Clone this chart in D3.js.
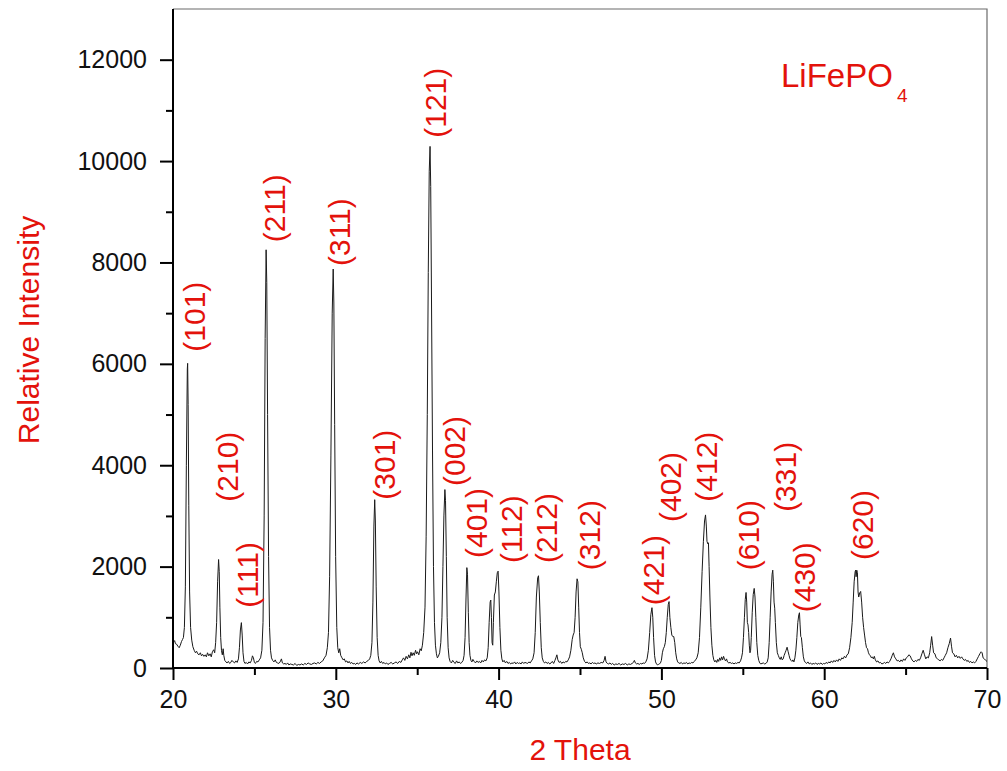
<!DOCTYPE html>
<html>
<head>
<meta charset="utf-8">
<script src="https://cdn.jsdelivr.net/npm/d3@7"></script>
<style>
  body { margin: 0; background: #fff; }
  text { font-family: "Liberation Sans", Arial, sans-serif; }
</style>
</head>
<body>
<div id="xrdChart"></div>
<script>
//********************************************************************//
//
//                    DATA
//
//*******************************************************************//

  // measured pattern: [2 theta, intensity]
  var pattern = [
    [20.00,560],[20.05,520],[20.10,540],[20.15,480],[20.22,470],[20.30,430],[20.38,400],[20.45,450],
    [20.52,520],[20.58,560],[20.64,600],[20.70,800],[20.76,1600],[20.82,4000],[20.88,5900],[20.90,6010],
    [20.93,5200],[20.97,3200],[21.02,1500],[21.08,800],[21.15,550],[21.22,420],[21.30,350],[21.38,300],
    [21.45,330],[21.52,280],[21.60,260],[21.68,300],[21.75,240],[21.82,270],[21.90,230],[21.98,260],
    [22.05,220],[22.12,300],[22.20,240],[22.28,280],[22.35,220],[22.42,320],[22.50,360],[22.56,300],
    [22.62,500],[22.68,900],[22.74,1700],[22.80,2140],[22.84,1900],[22.88,1200],[22.93,600],[22.98,340],
    [23.03,260],[23.08,380],[23.12,250],[23.18,150],[23.25,120],[23.32,100],[23.40,130],[23.48,90],
    [23.55,110],[23.62,150],[23.70,120],[23.78,100],[23.86,140],[23.94,110],[24.02,180],[24.08,400],
    [24.14,750],[24.20,895],[24.25,650],[24.30,300],[24.36,130],[24.42,90],[24.50,110],[24.58,80],
    [24.66,120],[24.74,100],[24.82,150],[24.88,240],[24.94,200],[25.00,110],[25.06,90],[25.14,130],
    [25.22,120],[25.30,160],[25.38,200],[25.46,350],[25.53,900],[25.60,3000],[25.66,6500],[25.72,8250],
    [25.76,7600],[25.81,5000],[25.87,2200],[25.93,800],[25.99,350],[26.05,200],[26.12,150],[26.20,120],
    [26.28,160],[26.35,110],[26.42,100],[26.50,90],[26.58,120],[26.66,180],[26.72,100],[26.80,80],
    [26.88,90],[26.96,70],[27.04,100],[27.12,60],[27.20,80],[27.30,70],[27.40,60],[27.50,90],
    [27.60,50],[27.70,70],[27.80,60],[27.90,80],[28.00,60],[28.10,90],[28.20,70],[28.30,100],
    [28.40,80],[28.50,70],[28.60,90],[28.70,100],[28.80,80],[28.90,110],[29.00,90],[29.10,120],
    [29.20,140],[29.30,200],[29.40,250],[29.48,400],[29.55,700],[29.62,1800],[29.70,4200],[29.78,7000],
    [29.84,7870],[29.88,7200],[29.93,4800],[29.99,2200],[30.06,800],[30.12,400],[30.18,300],[30.24,380],
    [30.30,250],[30.38,200],[30.45,160],[30.52,180],[30.60,120],[30.68,140],[30.75,100],[30.82,130],
    [30.90,90],[30.98,110],[31.06,80],[31.14,90],[31.22,70],[31.30,100],[31.40,80],[31.50,110],
    [31.60,90],[31.70,120],[31.80,100],[31.90,130],[32.00,150],[32.08,180],[32.15,250],[32.22,500],
    [32.28,1300],[32.34,2800],[32.39,3320],[32.43,2900],[32.48,1600],[32.54,600],[32.60,250],[32.66,140],
    [32.73,100],[32.80,130],[32.88,90],[32.96,110],[33.04,80],[33.12,100],[33.20,70],[33.30,90],
    [33.40,110],[33.50,80],[33.60,100],[33.70,120],[33.80,90],[33.90,130],[34.00,110],[34.08,160],
    [34.16,200],[34.24,150],[34.32,230],[34.40,180],[34.48,260],[34.55,200],[34.62,310],[34.68,240],
    [34.75,300],[34.82,250],[34.90,350],[34.96,280],[35.02,320],[35.10,260],[35.18,380],[35.25,340],
    [35.32,450],[35.40,700],[35.48,1200],[35.55,2600],[35.62,5000],[35.68,7800],[35.74,9800],[35.79,10290],
    [35.83,9500],[35.88,7200],[35.94,4300],[36.00,2000],[36.06,900],[36.12,450],[36.18,280],[36.24,200],
    [36.30,230],[36.38,300],[36.45,500],[36.52,1000],[36.58,2000],[36.64,3000],[36.70,3520],[36.74,3300],
    [36.79,2200],[36.84,1000],[36.90,400],[36.96,200],[37.02,130],[37.10,100],[37.18,150],[37.26,110],
    [37.34,90],[37.42,140],[37.50,100],[37.58,120],[37.66,90],[37.74,110],[37.82,150],[37.88,250],
    [37.94,600],[38.00,1400],[38.05,1980],[38.09,1850],[38.14,1100],[38.19,500],[38.24,250],[38.30,150],
    [38.36,120],[38.42,170],[38.50,130],[38.58,100],[38.66,140],[38.74,110],[38.82,130],[38.90,100],
    [38.98,150],[39.06,120],[39.14,160],[39.22,140],[39.30,200],[39.36,400],[39.42,900],[39.48,1300],
    [39.52,1340],[39.56,1000],[39.60,500],[39.64,450],[39.68,900],[39.74,1440],[39.80,1500],[39.86,1700],
    [39.92,1880],[39.97,1910],[40.02,1500],[40.08,800],[40.14,350],[40.20,180],[40.26,120],[40.34,150],
    [40.42,100],[40.50,130],[40.58,90],[40.66,110],[40.74,80],[40.82,100],[40.90,90],[40.98,120],
    [41.06,80],[41.14,110],[41.22,90],[41.30,100],[41.38,80],[41.46,120],[41.54,90],[41.62,110],
    [41.70,100],[41.78,90],[41.86,120],[41.94,100],[42.02,140],[42.10,180],[42.18,300],[42.25,700],
    [42.32,1400],[42.40,1780],[42.45,1820],[42.50,1500],[42.56,900],[42.62,400],[42.68,200],[42.75,130],
    [42.82,100],[42.90,120],[42.98,90],[43.06,110],[43.14,80],[43.22,100],[43.30,130],[43.38,90],
    [43.46,150],[43.52,200],[43.58,260],[43.64,160],[43.72,110],[43.80,130],[43.88,90],[43.96,120],
    [44.04,100],[44.12,130],[44.20,120],[44.28,160],[44.36,220],[44.44,350],[44.52,560],[44.58,650],
    [44.64,700],[44.70,1000],[44.76,1500],[44.82,1760],[44.87,1700],[44.92,1200],[44.97,700],[45.02,420],
    [45.08,370],[45.14,300],[45.20,200],[45.28,130],[45.36,100],[45.44,120],[45.52,90],[45.60,100],
    [45.68,80],[45.76,110],[45.84,90],[45.92,100],[46.00,80],[46.10,100],[46.20,90],[46.30,110],
    [46.40,100],[46.48,150],[46.54,230],[46.60,120],[46.68,90],[46.76,80],[46.84,100],[46.92,70],
    [47.00,90],[47.10,60],[47.20,80],[47.30,70],[47.40,90],[47.50,60],[47.60,80],[47.70,70],
    [47.80,90],[47.90,60],[48.00,80],[48.10,70],[48.20,90],[48.28,110],[48.34,150],[48.40,100],
    [48.48,80],[48.56,90],[48.64,70],[48.72,90],[48.80,80],[48.88,100],[48.96,90],[49.04,120],
    [49.12,180],[49.20,350],[49.28,700],[49.35,1050],[49.42,1190],[49.47,1000],[49.52,600],[49.58,250],
    [49.64,120],[49.70,80],[49.76,60],[49.82,70],[49.88,80],[49.94,100],[50.00,150],[50.06,300],
    [50.12,380],[50.18,420],[50.24,500],[50.30,700],[50.36,1000],[50.42,1250],[50.47,1310],[50.52,1000],
    [50.58,800],[50.64,650],[50.70,620],[50.76,620],[50.82,500],[50.88,300],[50.94,180],[51.00,120],
    [51.06,100],[51.14,90],[51.22,110],[51.30,80],[51.38,100],[51.46,90],[51.54,110],[51.62,80],
    [51.70,100],[51.78,90],[51.86,110],[51.94,100],[52.02,130],[52.10,160],[52.18,200],[52.26,300],
    [52.34,600],[52.42,1200],[52.50,1900],[52.58,2500],[52.65,2900],[52.71,3020],[52.76,2800],[52.80,2500],
    [52.85,2450],[52.89,2470],[52.93,2000],[52.98,1400],[53.04,800],[53.10,450],[53.16,250],[53.22,160],
    [53.28,120],[53.34,150],[53.40,110],[53.46,170],[53.52,130],[53.58,200],[53.64,150],[53.70,220],
    [53.76,160],[53.82,230],[53.88,170],[53.94,140],[54.00,180],[54.06,120],[54.14,100],[54.22,110],
    [54.30,90],[54.38,100],[54.46,80],[54.54,100],[54.62,90],[54.70,110],[54.78,100],[54.86,140],
    [54.92,200],[54.98,300],[55.04,600],[55.10,1000],[55.15,1350],[55.20,1490],[55.24,1300],[55.28,900],
    [55.32,850],[55.36,700],[55.40,450],[55.44,300],[55.48,350],[55.52,600],[55.58,1100],[55.64,1450],
    [55.70,1570],[55.75,1400],[55.80,1000],[55.86,500],[55.92,250],[55.98,150],[56.04,100],[56.10,80],
    [56.18,90],[56.26,100],[56.34,80],[56.42,90],[56.50,120],[56.56,200],[56.62,500],[56.68,1000],
    [56.74,1500],[56.80,1850],[56.84,1930],[56.88,1700],[56.92,1300],[56.96,1180],[57.00,900],[57.06,500],
    [57.12,300],[57.18,250],[57.24,200],[57.30,170],[57.36,220],[57.42,160],[57.48,180],[57.54,250],
    [57.60,300],[57.66,350],[57.72,410],[57.78,330],[57.84,250],[57.90,180],[57.96,150],[58.02,130],
    [58.08,160],[58.14,120],[58.20,200],[58.26,350],[58.32,600],[58.38,900],[58.44,1050],[58.48,1090],
    [58.52,850],[58.56,620],[58.60,600],[58.66,400],[58.72,220],[58.78,140],[58.84,110],[58.92,90],
    [59.00,120],[59.08,80],[59.16,100],[59.24,70],[59.32,90],[59.40,80],[59.48,100],[59.56,70],
    [59.64,90],[59.72,80],[59.80,100],[59.88,70],[59.96,90],[60.04,80],[60.12,110],[60.20,90],
    [60.28,120],[60.36,100],[60.44,140],[60.52,110],[60.60,150],[60.68,120],[60.76,160],[60.84,130],
    [60.92,180],[61.00,150],[61.08,200],[61.16,180],[61.24,230],[61.32,200],[61.40,260],[61.48,280],
    [61.56,400],[61.64,600],[61.72,900],[61.78,1300],[61.84,1700],[61.90,1900],[61.93,1930],[61.96,1800],
    [62.00,1930],[62.04,1880],[62.08,1500],[62.12,1400],[62.18,1480],[62.24,1510],[62.30,1300],[62.36,1000],
    [62.42,800],[62.48,650],[62.54,500],[62.60,400],[62.66,380],[62.72,300],[62.78,260],[62.84,240],
    [62.90,200],[62.96,220],[63.02,180],[63.08,230],[63.14,160],[63.22,120],[63.30,140],[63.38,100],
    [63.46,110],[63.54,80],[63.62,90],[63.70,110],[63.78,90],[63.86,120],[63.94,100],[64.02,130],
    [64.10,180],[64.18,250],[64.25,300],[64.32,220],[64.40,180],[64.48,140],[64.56,150],[64.64,120],
    [64.72,160],[64.80,130],[64.88,180],[64.96,150],[65.04,200],[65.12,220],[65.20,260],[65.28,240],
    [65.36,180],[65.44,140],[65.52,120],[65.60,150],[65.68,130],[65.76,170],[65.84,150],[65.92,200],
    [66.00,280],[66.08,350],[66.16,260],[66.24,180],[66.32,220],[66.40,200],[66.48,300],[66.54,450],
    [66.60,620],[66.66,450],[66.72,300],[66.80,280],[66.88,200],[66.96,180],[67.04,160],[67.12,140],
    [67.20,170],[67.28,150],[67.36,200],[67.44,250],[67.52,300],[67.60,400],[67.68,480],[67.76,590],
    [67.82,430],[67.88,300],[67.96,280],[68.04,220],[68.12,250],[68.20,200],[68.28,230],[68.36,190],
    [68.44,220],[68.52,180],[68.60,150],[68.68,170],[68.76,130],[68.84,150],[68.92,110],[69.00,130],
    [69.08,100],[69.16,120],[69.24,100],[69.32,130],[69.40,180],[69.48,230],[69.56,280],[69.64,320],
    [69.70,300],[69.76,200],[69.84,180],[69.92,150],[70.00,130]
  ];

  // Miller indices and where their labels start (2 theta, intensity)
  var peakLabels = [
    {hkl: "(101)", tt: 21.29, at: 6240},
    {hkl: "(210)", tt: 23.32, at: 3280},
    {hkl: "(111)", tt: 24.55, at: 1190},
    {hkl: "(211)", tt: 26.20, at: 8400},
    {hkl: "(311)", tt: 30.20, at: 7930},
    {hkl: "(301)", tt: 32.96, at: 3320},
    {hkl: "(121)", tt: 36.09, at: 10460},
    {hkl: "(002)", tt: 37.26, at: 3590},
    {hkl: "(401)", tt: 38.61, at: 2170},
    {hkl: "(112)", tt: 40.76, at: 2070},
    {hkl: "(212)", tt: 42.91, at: 2070},
    {hkl: "(312)", tt: 45.55, at: 1930},
    {hkl: "(421)", tt: 49.48, at: 1240},
    {hkl: "(402)", tt: 50.53, at: 2880},
    {hkl: "(412)", tt: 52.74, at: 3280},
    {hkl: "(610)", tt: 55.32, at: 1930},
    {hkl: "(331)", tt: 57.59, at: 3080},
    {hkl: "(430)", tt: 58.76, at: 1100},
    {hkl: "(620)", tt: 62.32, at: 2130}
  ];

  var xMajorTicks = [20, 30, 40, 50, 60, 70];
  var xMinorTicks = [25, 35, 45, 55, 65];
  var yMajorTicks = [0, 2000, 4000, 6000, 8000, 10000, 12000];
  var yMinorTicks = [1000, 3000, 5000, 7000, 9000, 11000];

  var xDomain = [20, 70];
  var yDomain = [0, 13000];

//********************************************************************//
//
//                    DRAWING
//
//*******************************************************************//

  var width = 1007,
      height = 771,
      red = "#e3120b";

  var svg = d3.select("#xrdChart")
              .append("svg")
              .attr("width", width)
              .attr("height", height);

  var x = d3.scaleLinear().domain(xDomain).range([173, 987]);
  var y = d3.scaleLinear().domain(yDomain).range([668, 9]);

  // thin grey frame on top and right
  svg.append("path")
     .attr("d", "M" + x(xDomain[0]) + "," + y(yDomain[1]) + "H" + x(xDomain[1]) + "V" + y(0))
     .attr("fill", "none")
     .attr("stroke", "#6b6b6b")
     .attr("stroke-width", 1.2);

  // the pattern itself
  var line = d3.line()
               .x(function(d) { return x(d[0]); })
               .y(function(d) { return y(d[1]); });

  svg.append("path")
     .datum(pattern)
     .attr("d", line)
     .attr("fill", "none")
     .attr("stroke", "#1a1a1a")
     .attr("stroke-width", 1)
     .attr("stroke-linejoin", "round");

  // axes
  svg.append("g")
     .attr("transform", "translate(" + x(xDomain[0]) + ",0)")
     .call(d3.axisLeft(y).tickValues(yMajorTicks).tickFormat(d3.format("d"))
             .tickSize(13).tickPadding(13));

  svg.append("g")
     .attr("transform", "translate(" + x(xDomain[0]) + ",0)")
     .call(d3.axisLeft(y).tickValues(yMinorTicks).tickSize(7).tickFormat(""));

  svg.append("g")
     .attr("transform", "translate(0," + y(0) + ")")
     .call(d3.axisBottom(x).tickValues(xMajorTicks).tickFormat(d3.format("d"))
             .tickSize(12).tickPadding(10));

  svg.append("g")
     .attr("transform", "translate(0," + y(0) + ")")
     .call(d3.axisBottom(x).tickValues(xMinorTicks).tickSize(7).tickFormat(""));

  svg.selectAll(".domain").remove();
  svg.selectAll(".tick line")
     .attr("stroke", "#000")
     .attr("stroke-width", 2);
  svg.selectAll(".tick text")
     .attr("font-family", "'Liberation Sans', Arial, sans-serif")
     .attr("font-size", 25)
     .attr("fill", "#111");

  // heavy left and bottom axis lines
  svg.append("line")
     .attr("x1", x(xDomain[0])).attr("x2", x(xDomain[0]))
     .attr("y1", y(yDomain[1])).attr("y2", y(0) + 1)
     .attr("stroke", "#000").attr("stroke-width", 2);

  svg.append("line")
     .attr("x1", x(xDomain[0]) - 1).attr("x2", x(xDomain[1]))
     .attr("y1", y(0)).attr("y2", y(0))
     .attr("stroke", "#000").attr("stroke-width", 2);

  // axis titles
  svg.append("text")
     .attr("transform", "translate(28," + 330 + ") rotate(-90)")
     .attr("text-anchor", "middle")
     .attr("dy", "0.35em")
     .attr("font-size", 30)
     .attr("fill", red)
     .text("Relative Intensity");

  svg.append("text")
     .attr("x", (x(xDomain[0]) + x(xDomain[1])) / 2)
     .attr("y", 760)
     .attr("text-anchor", "middle")
     .attr("font-size", 30)
     .attr("fill", red)
     .text("2 Theta");

  // compound name
  var compound = svg.append("text")
                    .attr("x", 781)
                    .attr("y", 87)
                    .attr("font-size", 33)
                    .attr("fill", red)
                    .text("LiFePO");
  compound.append("tspan")
          .attr("dx", 4)
          .attr("dy", 15)
          .attr("font-size", 19)
          .text("4");

  // Miller index labels, written bottom to top
  svg.selectAll("peakLabels")
     .data(peakLabels)
     .enter()
     .append("text")
     .attr("transform", function(d) {
       return "translate(" + x(d.tt) + "," + y(d.at) + ") rotate(-90)";
     })
     .attr("text-anchor", "start")
     .attr("dy", "0.36em")
     .attr("font-size", 30)
     .attr("fill", red)
     .text(function(d) { return d.hkl; });
</script>
</body>
</html>
